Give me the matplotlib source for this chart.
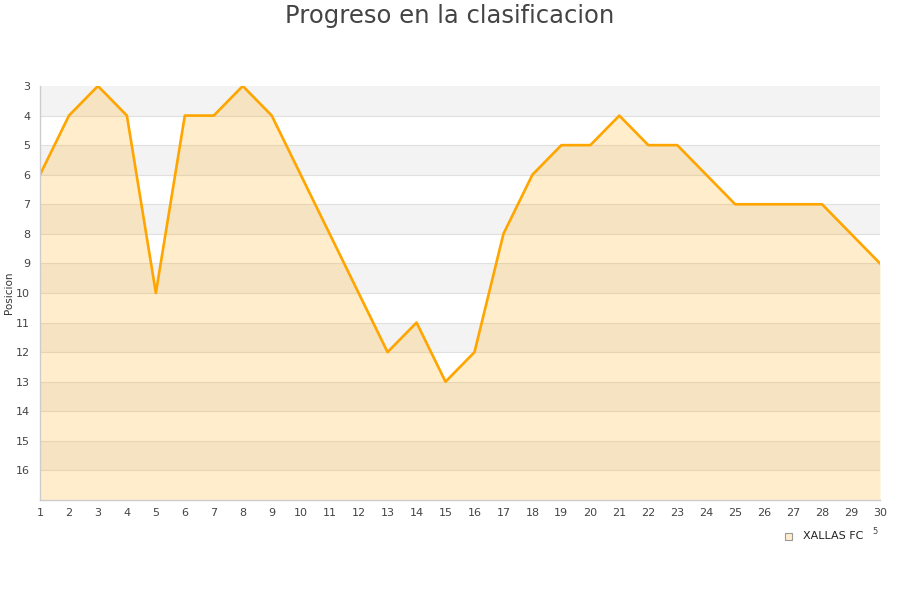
import matplotlib
matplotlib.use("Agg")
import matplotlib.pyplot as plt
from matplotlib.patches import Rectangle

jornadas = list(range(1, 31))
posiciones = [6, 4, 3, 4, 10, 4, 4, 3, 4, 6, 8, 10, 12, 11, 13, 12, 8, 6, 5, 5,
              4, 5, 5, 6, 7, 7, 7, 7, 8, 9]
y_ticks = list(range(3, 17))
equipo = "XALLAS FC"

fig = plt.figure(figsize=(9, 6), dpi=100)
ax = fig.add_axes([40 / 900, 1 - 500 / 600, 840 / 900, 414 / 600])

ax.set_xlim(1, 30)
ax.set_ylim(17, 3)

# alternating horizontal bands
for i, y0 in enumerate(range(3, 17)):
    color = "#f3f3f3" if i % 2 == 0 else "#ffffff"
    ax.axhspan(y0, y0 + 1, color=color, zorder=0, lw=0)
for y0 in range(4, 17):
    ax.axhline(y0, color="#e0e0e0", lw=0.8, zorder=0.5)

ax.fill_between(jornadas, posiciones, 17, color="#ffa500", alpha=0.2, lw=0, zorder=1)
ax.plot(jornadas, posiciones, color="#ffa500", lw=1.9, zorder=2)

ax.set_xticks(jornadas)
ax.set_yticks(y_ticks)
ax.tick_params(axis="both", length=0, labelsize=8, colors="#444444", pad=6)
ax.tick_params(axis="y", pad=7)
for side in ["top", "right"]:
    ax.spines[side].set_visible(False)
for side in ["left", "bottom"]:
    ax.spines[side].set_color("#cccccc")
    ax.spines[side].set_linewidth(1)

fig.text(9 / 900, 1 - 293 / 600, "Posicion", rotation=90, ha="center", va="center",
         fontsize=7.5, color="#333333")
fig.text(0.5, 1 - 16 / 600, "Progreso en la clasificacion", ha="center", va="center",
         fontsize=17.5, color="#444444")

# legend
fig.patches.append(Rectangle((785 / 900, 1 - 540 / 600), 7 / 900, 7 / 600,
                             transform=fig.transFigure, facecolor="#ffedcc",
                             edgecolor="#999999", lw=0.8))
fig.text(803 / 900, 1 - 536 / 600, equipo, ha="left", va="center", fontsize=8, color="#222222")
fig.text(875 / 900, 1 - 531 / 600, "5", ha="center", va="center", fontsize=6, color="#444444")

fig.savefig("out.png", dpi=100)
